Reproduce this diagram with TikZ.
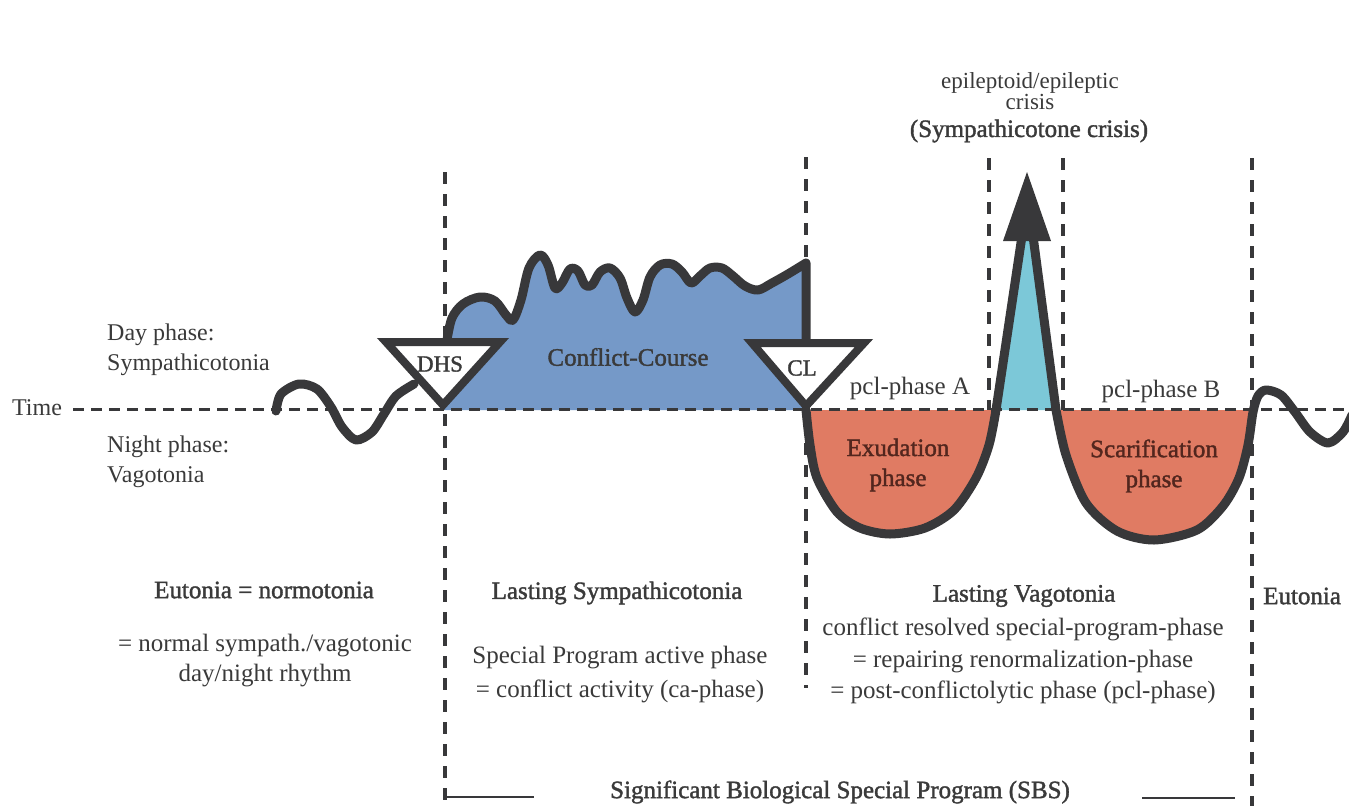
\documentclass[tikz,border=0pt]{standalone}
\usepackage{fontspec}
\setmainfont{Liberation Serif}
\newfontfamily\semib[FakeBold=1.5]{Liberation Serif}
\definecolor{ink}{HTML}{38383A}
\definecolor{txt}{HTML}{3A3A3A}
\definecolor{cblue}{HTML}{7599C8}
\definecolor{cred}{HTML}{E07B63}
\definecolor{ccyan}{HTML}{7CC8D8}
\definecolor{redtxt}{HTML}{52261E}
\begin{document}
\begin{tikzpicture}[x=1pt,y=-1pt,
  vdash/.style={draw=ink, line width=4pt, dash pattern=on 12pt off 10pt},
  tdash/.style={draw=ink, line width=3pt, dash pattern=on 11pt off 7pt},
  curve/.style={draw=ink, line width=9pt, line join=round, line cap=round},
  tri/.style={draw=ink, line width=8pt, fill=white, line join=miter},
  lbl/.style={text=txt, inner sep=0pt, align=center, font=\fontsize{25}{31}\selectfont},
  head/.style={text=txt, inner sep=0pt, align=center, font=\semib\fontsize{25}{31}\selectfont},
  phase/.style={text=redtxt, inner sep=0pt, align=center, font=\semib\fontsize{25}{30}\selectfont},
]
\useasboundingbox (0,0) rectangle (1349,806);
\fill[white] (0,0) rectangle (1349,806);

% vertical dashed lines
\draw[vdash] (445,172) -- (445,806);
\draw[vdash] (806,157) -- (806,688);
\draw[vdash] (989,158) -- (989,410);
\draw[vdash] (1063,158) -- (1063,410);
\draw[vdash] (1252,158) -- (1252,806);

% fills
\fill[cblue] (443,410) -- (447,340) -- plot[smooth,tension=0.55] coordinates {(447,340) (452,318) (463,304) (480,297) (495,301) (506,315) (513,320) (521,300) (529,268) (540,255) (548,265) (555,288) (562,283) (570,269) (578,271) (585,285) (592,285) (600,272) (610,268) (620,278) (627,298) (635,312) (643,300) (650,277) (660,265) (672,264) (682,272) (691,283) (700,276) (710,268) (722,268) (733,276) (745,286) (758,290) (772,283) (788,274) (806,263)} -- (806,410) -- cycle;
\fill[cred] plot[smooth] coordinates {(806,410) (810,445) (817,478) (837,512) (860,528) (890,534) (925,528) (954,510) (976,478) (989,445) (996,410)} -- cycle;
\fill[cred] plot[smooth] coordinates {(1056,410) (1066,455) (1086,503) (1117,531) (1154,540) (1197,530) (1223,506) (1239,478) (1248,445) (1253,410)} -- cycle;
\fill[ccyan] (997,410) -- (1022,240) -- (1033,240) -- (1055,410) -- cycle;

% time axis
\node[lbl, font=\fontsize{24}{28}\selectfont] (time) at (37,408) {Time};
\draw[tdash] (73,409) -- (1349,409);

% outlines
\draw[curve] plot[smooth] coordinates {(276,411) (281,394) (299,384) (317,389) (331,407) (342,427) (356,440) (372,432) (384,414) (396,396) (414,384)};
\draw[curve] plot[smooth,tension=0.55] coordinates {(447,340) (452,318) (463,304) (480,297) (495,301) (506,315) (513,320) (521,300) (529,268) (540,255) (548,265) (555,288) (562,283) (570,269) (578,271) (585,285) (592,285) (600,272) (610,268) (620,278) (627,298) (635,312) (643,300) (650,277) (660,265) (672,264) (682,272) (691,283) (700,276) (710,268) (722,268) (733,276) (745,286) (758,290) (772,283) (788,274) (806,263)} -- (806,343);
\draw[curve] plot[smooth] coordinates {(806,410) (810,445) (817,478) (837,512) (860,528) (890,534) (925,528) (954,510) (976,478) (989,445) (996,410)} -- (1022,236) -- (1033,236) -- plot[smooth] coordinates {(1056,410) (1066,455) (1086,503) (1117,531) (1154,540) (1197,530) (1223,506) (1239,478) (1248,445) (1253,412) (1258,396) (1266,390) (1281,395) (1295,412) (1310,432) (1328,443) (1343,432) (1352,415)};
\fill[ink] (1027,172) -- (1051,241) -- (1003,241) -- cycle;

% triangles
\draw[tri] (386,342) -- (500,342) -- (443,405) -- cycle;
\draw[tri] (752,343) -- (864,343) -- (806,406) -- cycle;
\node[head, font=\semib\fontsize{23}{28}\selectfont] (dhs) at (440,364) {DHS};
\node[head, font=\semib\fontsize{23}{28}\selectfont] (cl) at (802,368) {CL};
\node[head] (cc) at (628,357) {Conflict-Course};

% left labels
\node[lbl, anchor=west, align=left, font=\fontsize{24}{30}\selectfont] (day) at (107,350) {Day phase:\\Sympathicotonia};
\node[lbl, anchor=west, align=left, font=\fontsize{24}{30}\selectfont] (night) at (107,462) {Night phase:\\Vagotonia};

% phase labels
\node[lbl] (pcla) at (910,388) {pcl-phase A};
\node[lbl] (pclb) at (1161,391) {pcl-phase B};
\node[phase] (exu) at (898,465) {Exudation\\phase};
\node[phase] (scar) at (1154,466) {Scarification\\phase};

% crisis
\node[lbl, font=\fontsize{23}{19}\selectfont] (epi) at (1030,91) {epileptoid/epileptic\\crisis};
\node[head] (symp) at (1029,131) {(Sympathicotone crisis)};

% bottom texts
\node[head] (eut) at (264,590) {Eutonia = normotonia};
\node[lbl, font=\fontsize{25}{30}\selectfont] (eutd) at (265,661) {= normal sympath./vagotonic\\day/night rhythm};
\node[head] (lsym) at (617,593) {Lasting Sympathicotonia};
\node[lbl, font=\fontsize{25}{34}\selectfont] (lsymd) at (620,675) {Special Program active phase\\= conflict activity (ca-phase)};
\node[head] (lvag) at (1024,596) {Lasting Vagotonia};
\node[lbl, font=\fontsize{25}{31.5}\selectfont] (lvagd) at (1023,661) {conflict resolved special-program-phase\\= repairing renormalization-phase\\= post-conflictolytic phase (pcl-phase)};
\node[head, anchor=west] (eut2) at (1263,596) {Eutonia};
\node[head] (sbs) at (840,792) {Significant Biological Special Program (SBS)};
\draw[ink, line width=2pt] (447,797) -- (534,797);
\draw[ink, line width=2pt] (1142,798) -- (1235,798);
\end{tikzpicture}
\end{document}
